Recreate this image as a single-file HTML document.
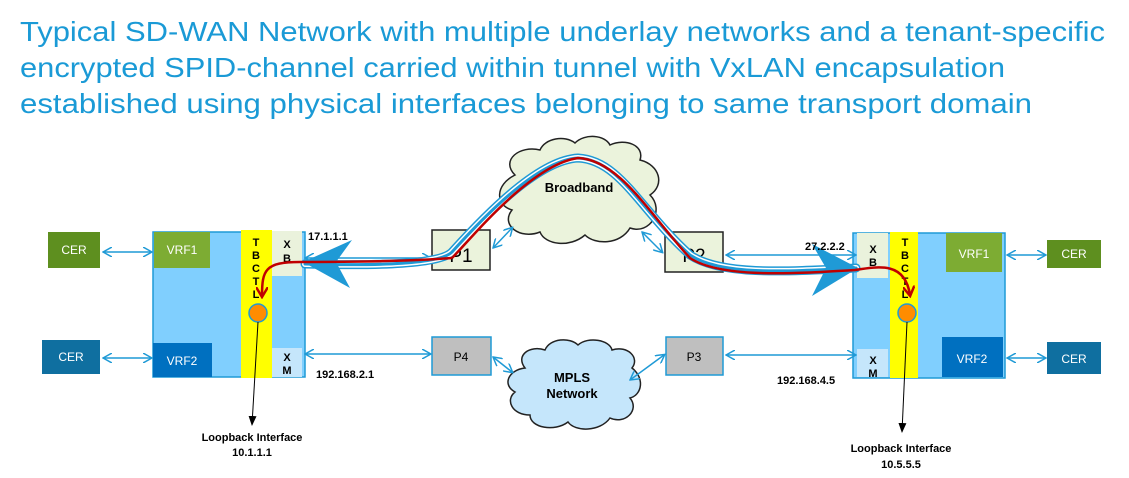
<!DOCTYPE html>
<html><head><meta charset="utf-8"><style>
html,body{margin:0;padding:0;background:#fff;width:1129px;height:478px;overflow:hidden}
svg{display:block}
text{font-family:"Liberation Sans",Arial,sans-serif}
</style></head><body>
<svg width="1129" height="478" viewBox="0 0 1129 478" xmlns="http://www.w3.org/2000/svg">
<defs>
<marker id="ab" markerWidth="10" markerHeight="10" refX="8" refY="5" orient="auto" markerUnits="userSpaceOnUse"><path d="M0,0 L9,5 L0,10" fill="none" stroke="#1f9ad6" stroke-width="1.5"/></marker>
<marker id="as" markerWidth="10" markerHeight="10" refX="9" refY="5" orient="auto-start-reverse" markerUnits="userSpaceOnUse"><path d="M0,0 L9,5 L0,10" fill="none" stroke="#1f9ad6" stroke-width="1.5"/></marker>
<marker id="ak" markerWidth="10" markerHeight="10" refX="9" refY="5" orient="auto" markerUnits="userSpaceOnUse"><path d="M0,1 L10,5 L0,9 Z" fill="#000"/></marker>
<marker id="ar" markerWidth="12" markerHeight="12" refX="9" refY="6" orient="auto" markerUnits="userSpaceOnUse"><path d="M0,0 L10,6 L0,12" fill="none" stroke="#c00000" stroke-width="2.5"/></marker>
</defs>
<g fill="#1a9ad6" font-size="28">
<text x="20" y="41" textLength="1085" lengthAdjust="spacingAndGlyphs">Typical SD-WAN Network with multiple underlay networks and a tenant-specific</text>
<text x="20" y="77" textLength="985" lengthAdjust="spacingAndGlyphs">encrypted SPID-channel carried within tunnel with VxLAN encapsulation</text>
<text x="20" y="113" textLength="1012" lengthAdjust="spacingAndGlyphs">established using physical  interfaces belonging to same transport domain</text>
</g>
<!-- clouds -->
<path d="M515,175 C500,160 520,145 540,150 C545,138 565,135 575,143 C585,133 605,135 610,145 C625,138 645,145 640,160 C660,165 665,185 650,195 C665,210 650,235 630,228 C620,245 595,245 585,235 C570,248 545,245 540,232 C520,240 500,225 512,210 C495,205 495,185 515,175 Z" fill="#ebf3dc" stroke="#222" stroke-width="1.5"/>
<text x="579" y="192" font-size="13" font-weight="bold" text-anchor="middle">Broadband</text>
<path d="M525,368 C515,355 530,345 545,350 C550,338 570,337 578,345 C588,336 610,340 612,350 C628,345 640,358 632,368 C645,378 642,395 630,398 C640,410 625,425 610,418 C600,432 575,432 568,422 C555,432 530,428 530,415 C512,415 505,400 515,392 C502,385 508,370 525,368 Z" fill="#c5e6fb" stroke="#222" stroke-width="1.5"/>
<text x="572" y="382" font-size="13" font-weight="bold" text-anchor="middle">MPLS</text>
<text x="572" y="398" font-size="13" font-weight="bold" text-anchor="middle">Network</text>
<!-- left router -->
<rect x="153" y="232" width="152" height="145" fill="#80cffe" stroke="#1f9ad6" stroke-width="1.5"/>
<rect x="241" y="230" width="31" height="148" fill="#ffff00"/>
<rect x="272" y="231" width="30" height="45" fill="#eaf2dc"/>
<rect x="272" y="348" width="30" height="29" fill="#c5e6fb"/>
<rect x="154" y="232" width="56" height="36" fill="#7dac33"/>
<rect x="153" y="343" width="59" height="34" fill="#0070c0"/>
<rect x="48" y="232" width="52" height="36" fill="#5e8f1f"/>
<rect x="42" y="340" width="58" height="34" fill="#0f6fa0"/>
<!-- right router -->
<rect x="853" y="233" width="152" height="145" fill="#80cffe" stroke="#1f9ad6" stroke-width="1.5"/>
<rect x="890" y="232" width="28" height="146" fill="#ffff00"/>
<rect x="857" y="233" width="31" height="45" fill="#eaf2dc"/>
<rect x="857" y="349" width="31" height="28" fill="#c5e6fb"/>
<rect x="946" y="233" width="56" height="39" fill="#7dac33"/>
<rect x="942" y="337" width="61" height="40" fill="#0070c0"/>
<rect x="1047" y="240" width="54" height="28" fill="#5e8f1f"/>
<rect x="1047" y="342" width="54" height="32" fill="#0f6fa0"/>
<g fill="#fff" font-size="12" text-anchor="middle">
<text x="74" y="254">CER</text><text x="182" y="254">VRF1</text>
<text x="71" y="361">CER</text><text x="182" y="365">VRF2</text>
<text x="1074" y="258">CER</text><text x="974" y="258">VRF1</text>
<text x="1074" y="363">CER</text><text x="972" y="363">VRF2</text>
</g>
<g font-size="11" font-weight="bold" text-anchor="middle">
<text x="256" y="246">T</text><text x="256" y="259">B</text><text x="256" y="272">C</text><text x="256" y="285">T</text><text x="256" y="298">L</text>
<text x="287" y="248">X</text><text x="287" y="262">B</text>
<text x="287" y="361">X</text><text x="287" y="374">M</text>
<text x="905" y="246">T</text><text x="905" y="259">B</text><text x="905" y="272">C</text><text x="905" y="285">T</text><text x="905" y="298">L</text>
<text x="873" y="253">X</text><text x="873" y="266">B</text>
<text x="873" y="364">X</text><text x="873" y="377">M</text>
</g>
<!-- P boxes -->
<rect x="432" y="230" width="58" height="40" fill="#ebf3dc" stroke="#222" stroke-width="1.5"/>
<rect x="665" y="232" width="58" height="40" fill="#ebf3dc" stroke="#222" stroke-width="1.5"/>
<rect x="432" y="337" width="59" height="38" fill="#bfbfbf" stroke="#1f9ad6" stroke-width="1.5"/>
<rect x="666" y="337" width="57" height="38" fill="#bfbfbf" stroke="#1f9ad6" stroke-width="1.5"/>
<text x="461" y="262" font-size="19" text-anchor="middle">P1</text>
<text x="694" y="262" font-size="19" text-anchor="middle">P2</text>
<text x="461" y="361" font-size="12" text-anchor="middle">P4</text>
<text x="694" y="361" font-size="12" text-anchor="middle">P3</text>
<!-- blue double arrows -->
<g stroke="#1f9ad6" stroke-width="1.5" fill="none" marker-start="url(#as)" marker-end="url(#ab)">
<line x1="103" y1="252" x2="151" y2="252"/>
<line x1="103" y1="358" x2="151" y2="358"/>
<line x1="1007" y1="255" x2="1045" y2="255"/>
<line x1="1007" y1="358" x2="1045" y2="358"/>
<line x1="305" y1="258" x2="430" y2="258"/>
<line x1="305" y1="354" x2="430" y2="354"/>
<line x1="726" y1="255" x2="855" y2="255"/>
<line x1="726" y1="355" x2="855" y2="355"/>
<line x1="493" y1="248" x2="512" y2="228"/>
<line x1="642" y1="232" x2="662" y2="252"/>
<line x1="493" y1="357" x2="512" y2="372"/>
<line x1="630" y1="380" x2="664" y2="355"/>
</g>
<!-- tunnel -->
<g fill="none" stroke-linecap="round">
<path d="M305,264 C380,266 440,264 452,252 C490,210 540,160 578,158 C620,160 640,210 690,255 C720,275 780,272 856,268" stroke="#1f9ad6" stroke-width="9"/>
<path d="M305,264 C380,266 440,264 452,252 C490,210 540,160 578,158 C620,160 640,210 690,255 C720,275 780,272 856,268" stroke="#fff" stroke-width="6"/>
<path d="M305,264 C380,266 440,264 452,252 C490,210 540,160 578,158 C620,160 640,210 690,255 C720,275 780,272 856,268" stroke="#1f9ad6" stroke-width="3"/>
</g>
<path d="M303,262 L352,240 L336,262 L350,288 Z" fill="#1f9ad6"/>
<path d="M858,268 L812,244 L826,268 L812,296 Z" fill="#1f9ad6"/>
<path d="M452,258 C470,240 530,165 578,158 C620,160 650,215 690,258 C720,278 790,274 855,270 C880,266 905,262 910,295" fill="none" stroke="#c00000" stroke-width="2.5" marker-end="url(#ar)"/>
<path d="M452,258 C400,262 330,262 300,262 C265,262 262,270 262,296" fill="none" stroke="#c00000" stroke-width="2.5" marker-end="url(#ar)"/>
<circle cx="258" cy="313" r="9" fill="#ff8c00" stroke="#1f9ad6" stroke-width="1.5"/>
<circle cx="907" cy="313" r="9" fill="#ff8c00" stroke="#1f9ad6" stroke-width="1.5"/>
<line x1="258" y1="322" x2="252" y2="425" stroke="#000" stroke-width="1" marker-end="url(#ak)"/>
<line x1="907" y1="322" x2="902" y2="432" stroke="#000" stroke-width="1" marker-end="url(#ak)"/>
<g font-size="11" font-weight="bold" text-anchor="middle">
<text x="252" y="441">Loopback Interface</text><text x="252" y="456">10.1.1.1</text>
<text x="901" y="452">Loopback Interface</text><text x="901" y="468">10.5.5.5</text>
</g>
<g font-size="11" font-weight="bold">
<text x="308" y="240">17.1.1.1</text>
<text x="316" y="378">192.168.2.1</text>
<text x="805" y="250">27.2.2.2</text>
<text x="777" y="384">192.168.4.5</text>
</g>
</svg>
</body></html>
